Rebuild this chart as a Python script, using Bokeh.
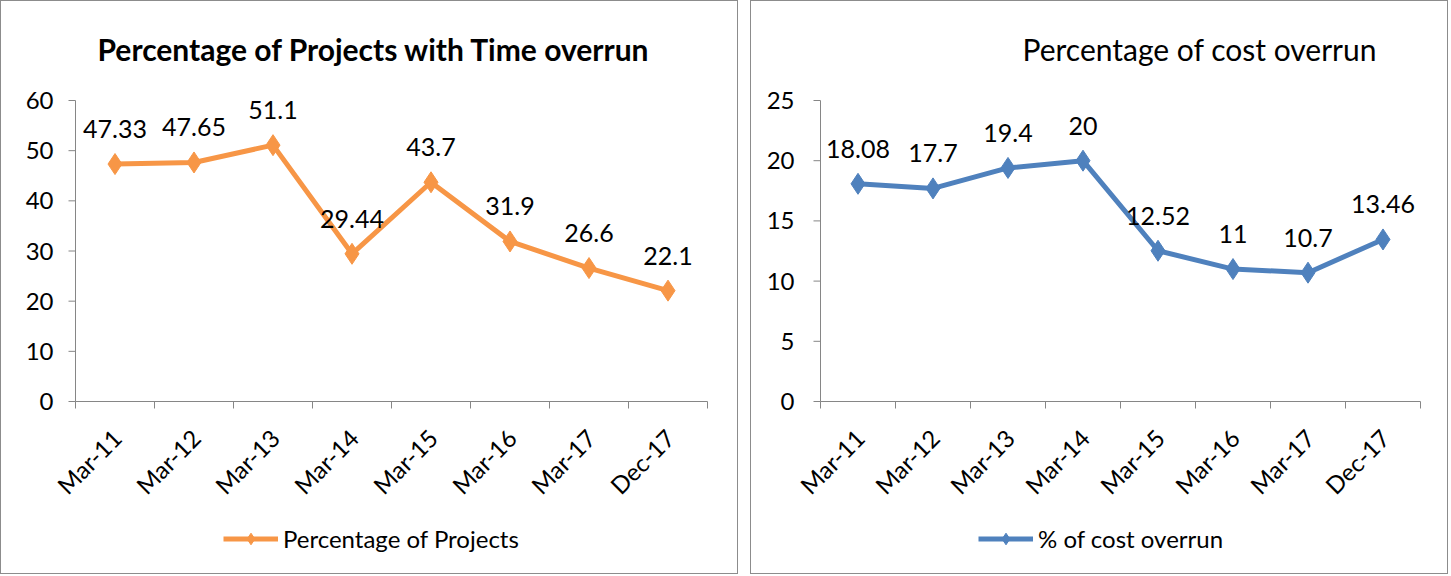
import math
from bokeh.plotting import figure
from bokeh.layouts import row
from bokeh.models import Range1d, Legend, LegendItem, LabelSet, ColumnDataSource
from bokeh.core.properties import value
from bokeh.embed import file_html
from bokeh.resources import INLINE

# ---- data ----
categories = ["Mar-11", "Mar-12", "Mar-13", "Mar-14", "Mar-15", "Mar-16", "Mar-17", "Dec-17"]
time_overrun = [47.33, 47.65, 51.1, 29.44, 43.7, 31.9, 26.6, 22.1]
time_labels = ["47.33", "47.65", "51.1", "29.44", "43.7", "31.9", "26.6", "22.1"]
cost_overrun = [18.08, 17.7, 19.4, 20, 12.52, 11, 10.7, 13.46]
cost_labels = ["18.08", "17.7", "19.4", "20", "12.52", "11", "10.7", "13.46"]
time_yticks = [0, 10, 20, 30, 40, 50, 60]
cost_yticks = [0, 5, 10, 15, 20, 25]

FONT = "Lato"
AXIS_COLOR = "#868686"


def make_chart(title, bold, values, labels, yticks, color, legend_label,
               width, plot_left, plot_right, title_offset, legend_x, ylab_off):
    # pixel geometry of the plotting area inside the canvas (canvas is drawn 1px inside the border)
    height = 574
    top_border = 69
    frame_top, frame_bottom = 1 + top_border, 1 + height
    area_top, area_bottom = 100, 401
    n = len(categories)
    xs = [i + 0.5 for i in range(n)]
    ux = (plot_right - plot_left) / n
    uy = (area_bottom - area_top) / (yticks[-1] - yticks[0])
    x0 = -(plot_left - 1) / ux
    x1 = n + (width + 1 - plot_right) / ux
    y1 = yticks[-1] + (area_top - frame_top) / uy
    y0 = yticks[0] - (frame_bottom - area_bottom) / uy

    p = figure(width=width, height=height,
               x_range=Range1d(x0, x1), y_range=Range1d(y0, y1),
               x_axis_location=None, y_axis_location=None,
               output_backend="svg", toolbar_location=None,
               min_border_left=0, min_border_right=0,
               min_border_top=top_border, min_border_bottom=0,
               styles={"border": "1px solid #8c8c8c"})
    p.outline_line_color = None
    p.grid.visible = False

    p.title.text = title
    p.title.text_font = FONT
    p.title.text_font_size = "30px"
    p.title.text_font_style = "bold" if bold else "normal"
    p.title.align = "left"
    p.title.offset = title_offset
    p.title.standoff = 8
    p.title.text_color = "black"

    tick_x = 7 / ux
    tick_y = 7 / uy
    ymin, ymax = yticks[0], yticks[-1]

    # value axis
    p.segment(x0=[0], y0=[ymin], x1=[0], y1=[ymax], line_color=AXIS_COLOR, line_width=1)
    p.segment(x0=[0] * len(yticks), y0=yticks, x1=[-tick_x] * len(yticks), y1=yticks,
              line_color=AXIS_COLOR, line_width=1)
    ysrc = ColumnDataSource(dict(x=[0] * len(yticks), y=yticks, t=[str(v) for v in yticks]))
    p.add_layout(LabelSet(x="x", y="y", text="t", source=ysrc, text_align="right",
                          text_baseline="middle", x_offset=ylab_off,
                          text_font=value(FONT), text_font_size=value("24px"),
                          text_color=value("black")))

    # category axis
    bounds = list(range(n + 1))
    p.segment(x0=[0], y0=[ymin], x1=[n], y1=[ymin], line_color=AXIS_COLOR, line_width=1)
    p.segment(x0=bounds, y0=[ymin] * len(bounds), x1=bounds, y1=[ymin - tick_y] * len(bounds),
              line_color=AXIS_COLOR, line_width=1)
    xsrc = ColumnDataSource(dict(x=xs, y=[ymin] * n, t=categories))
    p.add_layout(LabelSet(x="x", y="y", text="t", source=xsrc, angle=math.pi / 4,
                          text_align="right", text_baseline="middle",
                          x_offset=2, y_offset=-32,
                          text_font=value(FONT), text_font_size=value("24px"),
                          text_color=value("black")))

    # series
    ln = p.line(xs, values, line_color=color, line_width=5)
    sc = p.scatter(xs, values, marker="diamond", size=21,
                   fill_color=color, line_color=color)

    src = ColumnDataSource(dict(x=xs, y=values, t=labels))
    p.add_layout(LabelSet(x="x", y="y", text="t", source=src, text_align="center",
                          text_baseline="middle", y_offset=35, text_font=value(FONT),
                          text_font_size=value("25px"), text_color=value("black")))

    leg = Legend(items=[LegendItem(label=legend_label, renderers=[ln, sc])],
                 orientation="horizontal", location=(legend_x, 22),
                 glyph_width=55, glyph_height=29, label_standoff=5,
                 padding=0, margin=0,
                 label_text_font=FONT, label_text_font_size="24px",
                 label_text_color="black",
                 border_line_alpha=0, background_fill_alpha=0)
    p.add_layout(leg)
    return p


p1 = make_chart("Percentage of Projects with Time overrun", True, time_overrun,
                time_labels, time_yticks, "#F79646", "Percentage of Projects",
                738, 75, 707, 96, 222, -22)
p2 = make_chart("Percentage of cost overrun", False, cost_overrun,
                cost_labels, cost_yticks, "#4F81BD", "% of cost overrun",
                698, 820 - 750, 1420 - 750, 271, 227, -26)

layout = row(p1, p2, spacing=12)
open("out.html", "w").write(file_html(layout, INLINE))
